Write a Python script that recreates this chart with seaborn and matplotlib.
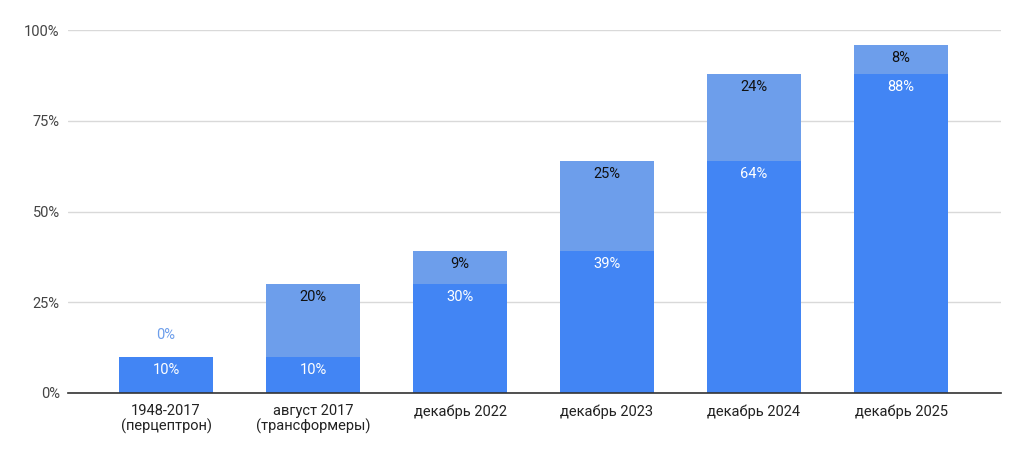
import matplotlib
matplotlib.use("Agg")
import matplotlib.pyplot as plt
import seaborn as sns
import pandas as pd
import numpy as np

categories = ["1948-2017\n(перцептрон)", "август 2017\n(трансформеры)", "декабрь 2022",
              "декабрь 2023", "декабрь 2024", "декабрь 2025"]
base_values = [10, 10, 30, 39, 64, 88]
top_values = [0, 20, 9, 25, 24, 8]
y_ticks = [0, 25, 50, 75, 100]
y_tick_labels = ["0%", "25%", "50%", "75%", "100%"]

base_color = "#4285F4"
top_color = "#6D9EEB"

sns.set_theme(style="white")
plt.rcParams['font.family'] = ['Roboto', 'DejaVu Sans']

df = pd.DataFrame({"cat": categories, "base": base_values, "top": top_values})
df["total"] = df["base"] + df["top"]

fig = plt.figure(figsize=(10.24, 4.54), dpi=100)
ax = fig.add_axes([68/1024, 1 - 393/454, (1001-68)/1024, (393-30)/454])

sns.barplot(data=df, x="cat", y="total", color=top_color, saturation=1, width=0.64,
            linewidth=0, edgecolor="none", ax=ax, zorder=2)
sns.barplot(data=df, x="cat", y="base", color=base_color, saturation=1, width=0.64,
            linewidth=0, edgecolor="none", ax=ax, zorder=3)

ax.set_ylim(0, 100)
ax.set_xlim(-0.667, 5.68)
ax.set_yticks(y_ticks)
ax.set_yticklabels(y_tick_labels)
ax.yaxis.grid(True, color="#d9d9d9", linewidth=1, zorder=0)
ax.set_axisbelow(True)
ax.set_xlabel("")
ax.set_ylabel("")
for s in ["top", "right", "left"]:
    ax.spines[s].set_visible(False)
ax.spines["bottom"].set_color("#333333")
ax.spines["bottom"].set_linewidth(1.2)
ax.spines["bottom"].set_zorder(5)
ax.tick_params(axis="y", length=0, labelsize=10.5, colors="#444444", pad=6)
ax.tick_params(axis="x", length=0, labelsize=10.5, colors="#222222", pad=8)
for lbl in ax.get_xticklabels():
    lbl.set_linespacing(1.05)

off = 3.6  # in data units (~13px)
for i, (b, t) in enumerate(zip(base_values, top_values)):
    ax.text(i, b - off, f"{b}%", ha="center", va="center", color="white", fontsize=10.5, zorder=6)
    if t > 0:
        ax.text(i, b + t - off, f"{t}%", ha="center", va="center", color="#111111", fontsize=10.5, zorder=6)
    else:
        ax.text(i, b + 5.9, f"{t}%", ha="center", va="center", color=top_color, fontsize=10.5, zorder=6)

fig.savefig("out.png", dpi=100)
